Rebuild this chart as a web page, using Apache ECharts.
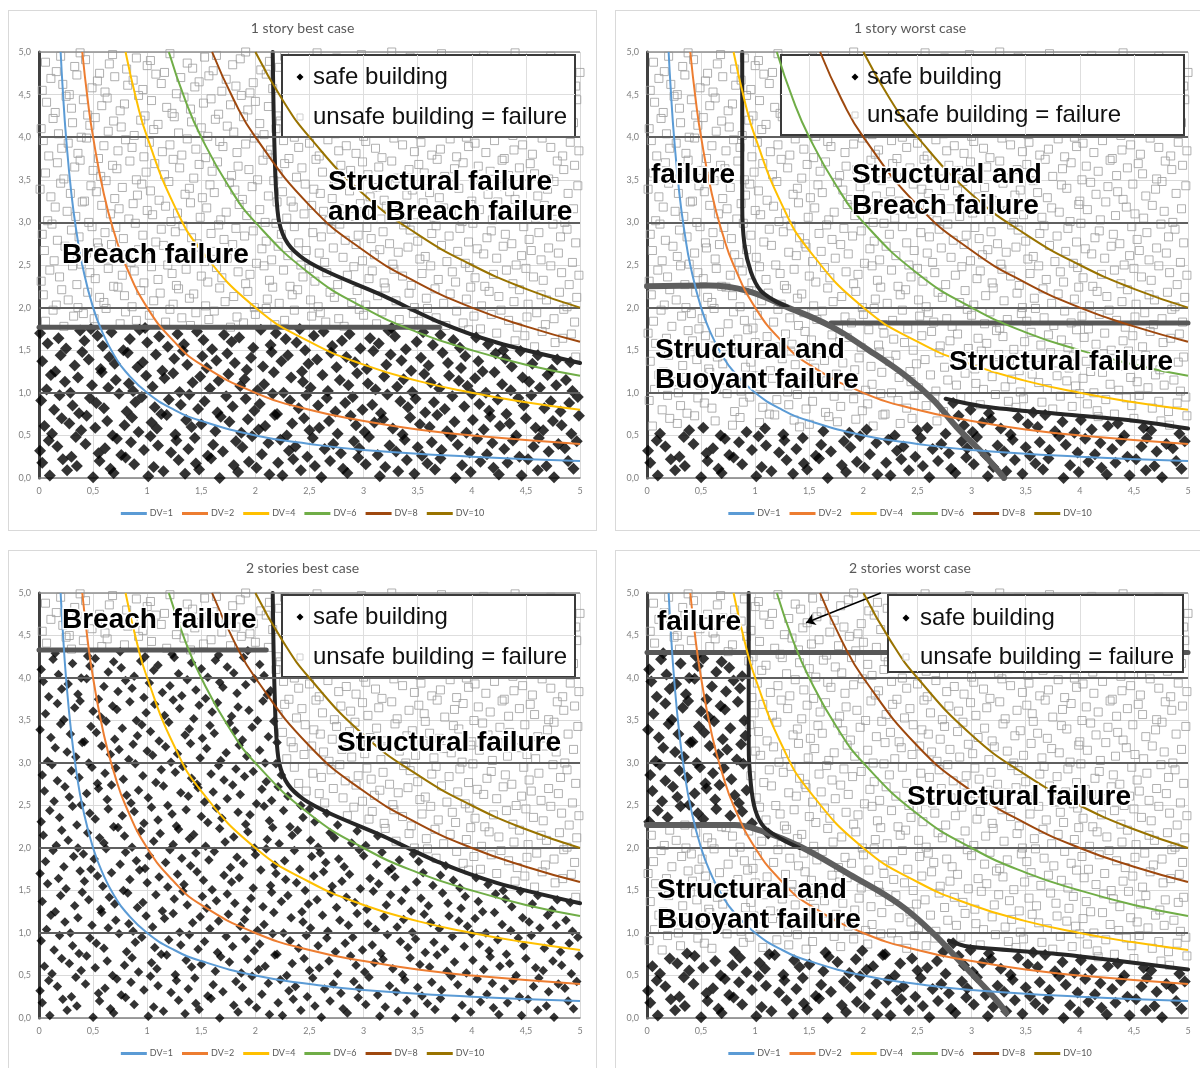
<!DOCTYPE html>
<html>
<head>
<meta charset="utf-8">
<title>Building failure by flood depth and velocity</title>
<script src="https://cdn.jsdelivr.net/npm/echarts@6/dist/echarts.min.js"></script>
<style>
  html, body { margin: 0; padding: 0; background: #fff; width: 1200px; height: 1068px; overflow: hidden; }
  .panel { position: absolute; box-sizing: border-box; border: 1px solid #d9d9d9; background: #fff; }
</style>
</head>
<body>
<div id="p1" class="panel" style="left:8px;top:10px;width:589px;height:521px"></div>
<div id="p2" class="panel" style="left:615px;top:10px;width:590px;height:521px"></div>
<div id="p3" class="panel" style="left:8px;top:550px;width:589px;height:530px"></div>
<div id="p4" class="panel" style="left:615px;top:550px;width:590px;height:530px"></div>
<script>
// Sampled (velocity, depth) cases, one token per case: xxx = velocity*100, yyy = depth*100.
const samples = [
  "003018 010003 022022 026009 035014 050001 056020 066011 069006 080024 088016 101002 106013 115008 129021 135005 145017 148010 159023 167000 180015 184007 194019 201012 213004 221018 225003 235022 242009 255014 261001 269020 281011 285006 295024 302016 315002 320013 332008 340021 347005 359017 366010 371023 385000 391015 399007 408019 420012 425004 433018 446003 452022 461009 469014 476001 489020 494011",
  "001032 009044 017037 030025 034048 043040 055029 061035 072046 076027 085042 097033 103049 110038 122030 127044 138034 144047 156026 161039 170031 182043 188036 197049 206028 212041 223045 231032 237037 248025 253047 264034 272040 279029 291043 296035 305048 313027 324038 330031 338045 350036 354026 363042 372033 381049 387039 398030 405046 414028 419041 430034 438044 444025 457037 462047 471031 480040 486035 497043",
  "005061 012052 021070 028064 039056 044073 052059 063067 068050 079062 086071 092054 104065 109058 118074 126051 136068 141060 150063 163055 168072 176066 187053 193069 203057 209061 218074 229050 234064 245070 250056 259059 268067 276052 288073 293062 301054 310065 318069 327058 336051 343071 352063 361060 368074 377055 384066 395053 401068 411057 417072 426061 435064 441050 450070 459059 466056 475067 483062 492052 499073",
  "002091 014080 019097 031085 037076 047094 053088 060082 074099 081078 089089 095095 107083 113075 120092 131086 139098 147081 153090 165077 173096 179084 191093 199079 204087 216099 220075 232091 240082 247097 258085 266094 274078 283088 290095 299080 308086 316076 322098 334090 341083 348093 357077 365089 375081 382096 393084 400099 407087 416079 424092 432075 443094 448085 455097 467082 473090 482078 490088 498095",
  "007104 011121 024113 029100 036118 049109 058124 064106 071115 083111 087102 099120 105107 116117 124123 130101 142112 149119 158105 166114 175122 186108 190116 202103 208110 217124 226100 233118 244113 251106 262121 267102 278115 286109 294123 304111 311104 319119 331107 337116 345101 356122 362112 370105 379120 388114 396108 403117 413100 421124 428110 436103 447118 453113 463106 470121 478109 487115 493102",
  "003137 015125 020144 033132 040148 046139 057128 065142 070134 082147 091130 096136 108145 114126 125140 133149 137133 151143 155129 164138 174146 181135 192127 196141 207131 215148 224137 230144 243125 249134 257139 270147 275130 284142 292136 303128 309149 321133 325145 335138 344126 353141 360132 373147 378135 390129 394143 406137 410125 422146 431140 437131 445149 456134 461144 474127 479139 491136 496142",
  "001170 008158 018164 025152 038173 042161 054167 059155 067171 078150 084163 093174 100159 111166 119154 128169 134157 146172 152162 160151 171168 178160 185165 198153 205174 214156 219170 228163 238159 246150 254167 263172 271155 280161 287169 297152 306164 314158 323173 329166 339151 349160 355171 364156 371168 383162 389153 397174 404165 415157 423170 429150 440161 449167 458154 465172 477159 484164 492169",
  "006184 013197 023178 032190 041193 048175 051187 062199 075181 080195 090185 098176 102191 117183 121198 132188 140179 145194 157186 162196 177177 183189 189182 200192 210199 218180 227185 236197 241175 252190 260194 265183 277187 282178 296198 300191 312181 317195 326176 333186 346193 351184 359199 367188 376179 386196 392182 402190 408175 418192 427197 434185 442177 451189 460194 468180 476187 485198 495183",
  "004215 016203 021221 027209 036200 045218 056212 060206 073224 079214 086201 094220 106208 112217 124204 129222 139211 143216 154202 167223 172207 180213 193219 199200 211210 216224 222205 234215 239221 251209 258201 269218 273212 289206 294220 302203 313214 320223 330208 342217 347200 358211 366222 374205 380216 395210 399224 409202 416219 425213 439207 444221 452204 464215 469209 481218 488201 497212",
  "002231 010244 019236 031249 035227 047241 052234 064246 069225 077238 088243 097229 104248 110233 123240 127226 136245 150237 156230 164247 169235 184242 191228 195239 208249 213232 226244 232225 244236 250246 255231 266241 276227 285238 291248 305234 308243 319229 328245 336237 344226 354240 362249 369233 382242 385230 398247 403235 412225 420239 432244 438228 450246 457236 466232 473249 483241 490227 499238",
  "005267 014255 024272 028260 039251 044264 055270 063257 067274 081262 085253 092268 101259 115273 119250 131265 138261 147271 153254 161266 174258 179274 186263 201252 206269 215256 221272 230261 242250 247267 259264 264253 272270 281259 293274 299255 310262 315268 327251 332265 341271 352257 357260 372273 377254 387266 394252 405269 411263 423258 429272 441250 446261 455267 464256 471270 480264 493253",
  "003286 012298 017279 030291 037283 049295 054276 061288 071294 078281 089299 096285 108277 113292 126289 133296 141282 146275 159287 166297 171280 182293 190284 198290 210278 219299 224286 236295 240276 253288 261283 270292 278298 283279 295285 303294 307281 318289 324275 337297 343291 350278 363287 367296 379284 389293 397277 401299 414282 418290 431286 437275 448295 453280 462288 475298 482283 488292 496276",
  "008302 015318 026313 034307 040324 046300 058320 066310 074316 083304 087322 100314 105309 117319 122301 128311 140323 149306 155317 168303 173312 185321 192308 204315 209300 220324 229305 235318 245310 252320 263313 268302 280316 289307 297322 301311 316304 321319 333314 339300 348309 355323 365306 374317 381312 391301 399321 407315 419303 424324 433308 443318 451310 459305 467320 478313 486300 494316",
  "001339 011330 020346 029334 042325 048343 053336 062349 070328 077341 091332 095345 103337 111326 120348 135333 139340 151329 158344 162335 176347 181338 188327 197342 212331 217349 225336 233325 246345 254339 260334 271328 275343 287337 292348 306330 312341 319326 329346 340332 345338 357349 361335 370329 383344 388340 400325 410347 415333 426342 435336 440327 449345 461331 470339 476348 489334 498343",
  "006358 017370 023351 033365 038373 050361 057354 068367 072363 084372 090350 099359 107369 116356 124374 130364 143352 148368 160360 165371 178355 184366 194362 202350 207373 221357 227369 238353 243364 256374 262359 273351 279367 288361 299371 304356 314365 326372 331352 342362 351368 356358 368374 375354 384363 392370 402350 406366 417360 428373 434355 444364 454369 458357 471351 479372 485362 495367",
  "004396 009378 021387 027393 036381 044399 055375 060390 073384 080397 086388 097377 102394 114383 121391 132379 137398 145386 154376 167395 170389 183382 191392 199399 211380 214385 226396 231375 240388 250393 259378 267397 277384 284390 293381 302395 311387 317376 328399 336391 347383 353394 363379 371386 380398 386377 397389 403393 413382 421396 430375 439385 447391 456380 465399 473388 484378 491394 499384",
  "002410 013422 018404 031417 039400 047414 052423 064407 069419 076412 088402 094420 106409 110415 125424 129405 141418 150411 156401 163421 174413 180406 189424 204416 208403 219410 223419 236400 244414 249422 258408 270417 274404 286412 290423 300401 309415 322420 325406 334411 344424 352403 359418 366409 378413 389421 395400 408416 412407 420422 432412 438402 450419 457405 468414 474424 481408 494417",
  "007441 015429 025448 030434 041444 045426 058437 063446 075431 079439 092449 098425 104443 118435 123428 134447 140433 152440 159445 166427 177438 187449 193432 200442 212436 220425 229446 234430 247441 253434 264448 268439 281426 288444 296431 306437 313449 320428 331442 340435 349445 355425 367440 374433 383447 391438 399429 409443 418436 425449 437427 445441 452432 463446 470434 480439 487426 497444",
  "003455 011469 022462 028450 035473 049458 054466 061453 070471 082461 087467 096456 108474 113463 127451 131470 144459 148465 157472 169454 173468 182460 195452 198464 210474 216457 230469 237462 242450 255466 261471 272455 277461 291473 294458 303467 316452 323464 329470 338456 350474 358460 362468 376451 381463 393472 398454 404466 415459 427469 430450 442462 455474 461457 472465 477453 490471 496460",
  "006488 016477 020495 033483 038499 043491 056475 065486 068497 081480 090493 100484 103490 116476 121498 137487 142481 153494 161478 164496 179485 186492 191500 205479 213489 222482 227495 239475 248487 257499 266484 275493 285477 290490 298497 307481 314486 326500 334476 343494 353483 360489 372498 377479 387491 390485 401475 411496 420488 426480 440499 448492 457477 467484 473495 485482 492490 500476"
];

// Depth x velocity iso-lines
const dvNames = ['DV=1', 'DV=2', 'DV=4', 'DV=6', 'DV=8', 'DV=10'];
const dvColors = ['#5B9BD5', '#ED7D31', '#FFC000', '#70AD47', '#9E480E', '#997300'];
const dv1 = [[0.2,5],[0.22,4.55],[0.25,4],[0.3,3.33],[0.35,2.86],[0.4,2.5],[0.5,2],[0.6,1.67],[0.7,1.43],[0.8,1.25],[1,1],[1.25,0.8],[1.5,0.67],[2,0.5],[2.5,0.4],[3,0.33],[4,0.25],[5,0.2]];
const dv2 = [[0.4,5],[0.45,4.44],[0.5,4],[0.6,3.33],[0.7,2.86],[0.8,2.5],[1,2],[1.25,1.6],[1.5,1.33],[2,1],[2.5,0.8],[3,0.67],[3.5,0.57],[4,0.5],[5,0.4]];
const dv4 = [[0.8,5],[0.9,4.44],[1,4],[1.25,3.2],[1.5,2.67],[2,2],[2.5,1.6],[3,1.33],[3.5,1.14],[4,1],[4.5,0.89],[5,0.8]];
const dv6 = [[1.2,5],[1.35,4.44],[1.5,4],[1.75,3.43],[2,3],[2.5,2.4],[3,2],[3.5,1.71],[4,1.5],[4.5,1.33],[5,1.2]];
const dv8 = [[1.6,5],[1.8,4.44],[2,4],[2.5,3.2],[3,2.67],[3.5,2.29],[4,2],[4.5,1.78],[5,1.6]];
const dv10 = [[2,5],[2.25,4.44],[2.5,4],[3,3.33],[3.5,2.86],[4,2.5],[4.5,2.22],[5,2]];
const dvLines = [dv1, dv2, dv4, dv6, dv8, dv10];

// Failure boundaries, best case (shared structural limit)
const structuralBest = [[2.16,5],[2.17,4.2],[2.19,3.4],[2.22,3.0],[2.3,2.75],[2.45,2.57],[2.7,2.4],[3.18,2.14],[3.7,1.83],[4.23,1.59],[5,1.35]];
const breachBest1 = [[0,1.77],[3.7,1.77]];
const breachBest2 = [[0,4.33],[2.1,4.33]];

// Failure boundaries, worst case, 1 story
const structuralWorst1 = [[0.88,5],[0.88,3.2],[0.9,2.75],[0.96,2.42],[1.05,2.2],[1.18,2.08],[1.3,2.01]];
const buoyantWorst1 = [[0,2.25],[0.57,2.26],[0.92,2.2],[1.27,2.02],[1.7,1.78],[2.05,1.5],[2.4,1.19],[2.65,0.91],[2.86,0.6],[3.11,0.28],[3.3,0]];
const lowerWorst1 = [[2.76,0.93],[3.11,0.84],[3.82,0.75],[4.52,0.67],[5,0.58]];
const breachWorst1 = [[1.7,1.82],[5,1.82]];
const safeDepthWorst1 = 0.6;

// Failure boundaries, worst case, 2 stories
const structuralWorst2 = [[0.94,5],[0.94,3.2],[0.96,2.75],[1.0,2.45],[1.08,2.25],[1.25,2.1],[1.41,2.0]];
const buoyantWorst2 = [[0,2.27],[0.81,2.27],[1.06,2.2],[1.41,2.02],[1.87,1.69],[2.33,1.34],[2.65,0.99],[2.86,0.71],[3.07,0.43],[3.25,0.18],[3.32,0.06]];
const lowerWorst2 = [[2.79,0.91],[2.97,0.84],[3.82,0.75],[5,0.57]];
const breachWorst2 = [[0,4.3],[5,4.3]];
const safeDepthWorst2 = 0.8;
const arrowWorst2 = [[2.16,5.0],[1.47,4.65]];

const keyLabels = ['safe building', 'unsafe building = failure'];
const axisMax = 5, gridStep = 0.5;

const points = samples.join(' ').split(' ').map(function (t) {
  return [parseInt(t.slice(0, 3), 10) / 100, parseInt(t.slice(3), 10) / 100];
});

// y of a polyline (ordered by x) at x; Infinity left of its start
function yAt(line, x) {
  if (x < line[0][0]) return Infinity;
  for (let i = 0; i < line.length - 1; i++) {
    const a = line[i], b = line[i + 1];
    if (x <= b[0]) {
      const t = b[0] === a[0] ? 0 : (x - a[0]) / (b[0] - a[0]);
      return a[1] + t * (b[1] - a[1]);
    }
  }
  return line[line.length - 1][1];
}
// x of a polyline (ordered by falling y) at y
function xAt(line, y) {
  if (y >= line[0][1]) return line[0][0];
  for (let i = 0; i < line.length - 1; i++) {
    const a = line[i], b = line[i + 1];
    if (y >= b[1]) {
      const t = a[1] === b[1] ? 0 : (a[1] - y) / (a[1] - b[1]);
      return a[0] + t * (b[0] - a[0]);
    }
  }
  return line[line.length - 1][0];
}

const dark = '#262626', mid = '#575757';

const panels = [
  {
    id: 'p1', title: '1 story best case', grid: { left: 30, top: 41, width: 541, height: 426 }, diamond: 12,
    isSafe: function (x, y) { return y < breachBest1[0][1] && y < yAt(structuralBest, x); },
    bounds: [
      { data: breachBest1, color: mid, width: 5, smooth: false },
      { data: structuralBest, color: dark, width: 4, smooth: 0.3 }
    ],
    notes: [['Structural failure', 319, 171], ['and Breach failure', 319, 201], ['Breach failure', 53, 244]],
    key: { x: 273, y: 44, w: 293, h: 82, bx: 291, tx: 304, sy: 66, uy: 106 }
  },
  {
    id: 'p2', title: '1 story worst case', grid: { left: 31, top: 41, width: 541, height: 426 }, diamond: 12,
    isSafe: function (x, y) { return y < (x < lowerWorst1[0][0] ? safeDepthWorst1 : yAt(lowerWorst1, x)); },
    bounds: [
      { data: breachWorst1, color: mid, width: 5, smooth: false },
      { data: buoyantWorst1, color: '#5e5e5e', width: 6, smooth: 0.4 },
      { data: structuralWorst1, color: dark, width: 4, smooth: 0.3 },
      { data: lowerWorst1, color: dark, width: 4, smooth: 0.3 }
    ],
    notes: [['failure', 35, 164], ['Structural and', 236, 164], ['Breach failure', 236, 195],
            ['Structural and', 39, 339], ['Buoyant failure', 39, 369], ['Structural failure', 333, 351]],
    key: { x: 165, y: 44, w: 403, h: 80, bx: 239, tx: 251, sy: 66, uy: 104 }
  },
  {
    id: 'p3', title: '2 stories best case', grid: { left: 30, top: 42, width: 541, height: 425 }, diamond: 9.5,
    isSafe: function (x, y) { return y < breachBest2[0][1] && y < yAt(structuralBest, x); },
    bounds: [
      { data: breachBest2, color: mid, width: 5, smooth: false },
      { data: structuralBest, color: dark, width: 4, smooth: 0.3 }
    ],
    notes: [['Breach  failure', 53, 69], ['Structural failure', 328, 192]],
    key: { x: 273, y: 44, w: 293, h: 82, bx: 291, tx: 304, sy: 66, uy: 106 }
  },
  {
    id: 'p4', title: '2 stories worst case', grid: { left: 31, top: 42, width: 541, height: 425 }, diamond: 12,
    isSafe: function (x, y) {
      const low = y < (x < lowerWorst2[0][0] ? safeDepthWorst2 : yAt(lowerWorst2, x));
      const high = y > yAt(buoyantWorst2, x) && y < breachWorst2[0][1] && x < xAt(structuralWorst2, y);
      return low || high;
    },
    bounds: [
      { data: breachWorst2, color: mid, width: 5, smooth: false },
      { data: buoyantWorst2, color: '#5e5e5e', width: 6, smooth: 0.4 },
      { data: structuralWorst2, color: dark, width: 4, smooth: 0.3 },
      { data: lowerWorst2, color: dark, width: 4, smooth: 0.3 }
    ],
    arrow: arrowWorst2,
    notes: [['failure', 41, 71], ['Structural failure', 291, 246], ['Structural and', 41, 339], ['Buoyant failure', 41, 369]],
    key: { x: 272, y: 44, w: 295, h: 77, bx: 290, tx: 304, sy: 67, uy: 106 }
  }
];

function fmtX(v) { return String(v).replace('.', ','); }
function fmtY(v) { return v.toFixed(1).replace('.', ','); }

// White key box: sits above the points and failure limits, below the DV curves
function keyGraphics(k) {
  const font = { fontSize: 24, fontFamily: '"Liberation Sans", Arial, sans-serif', fill: '#111', verticalAlign: 'middle' };
  return [
    { type: 'rect', z: 4.5, shape: { x: k.x, y: k.y, width: k.w, height: k.h }, style: { fill: '#fff', stroke: '#3a3a3a', lineWidth: 2 } },
    { type: 'polygon', z: 101, shape: { points: [[k.bx, k.sy - 3.5], [k.bx + 3.5, k.sy], [k.bx, k.sy + 3.5], [k.bx - 3.5, k.sy]] }, style: { fill: '#000' } },
    { type: 'rect', z: 101, shape: { x: k.bx - 3, y: k.uy - 3, width: 6, height: 6 }, style: { fill: 'none', stroke: '#cfcfcf', lineWidth: 1 } },
    { type: 'text', z: 101, x: k.tx, y: k.sy, style: Object.assign({ text: keyLabels[0] }, font) },
    { type: 'text', z: 101, x: k.tx, y: k.uy, style: Object.assign({ text: keyLabels[1] }, font) }
  ];
}

// Light grid lines that stay visible across the key box
function keyGridLines(p) {
  const g = p.grid, k = p.key;
  const x0 = (k.x - g.left) / g.width * axisMax, x1 = (k.x + k.w - g.left) / g.width * axisMax;
  const y1 = axisMax - (k.y - g.top) / g.height * axisMax, y0 = axisMax - (k.y + k.h - g.top) / g.height * axisMax;
  const segs = [];
  for (let v = gridStep; v < axisMax; v += gridStep) {
    if (v > x0 && v < x1) segs.push([{ coord: [v, Math.max(0, y0)] }, { coord: [v, Math.min(axisMax, y1)] }]);
    if (v > y0 && v < y1) segs.push([{ coord: [Math.max(0, x0), v] }, { coord: [Math.min(axisMax, x1), v] }]);
  }
  return segs;
}

function buildOption(p) {
  const safe = [], unsafe = [];
  points.forEach(function (pt) { (p.isSafe(pt[0], pt[1]) ? safe : unsafe).push(pt); });

  const series = [
    {
      type: 'line', name: 'major grid', data: [], z: 1, silent: true, symbol: 'none',
      markLine: {
        silent: true, symbol: 'none', label: { show: false }, animation: false,
        data: [1, 2, 3, 4].map(function (v) { return { yAxis: v, lineStyle: { color: '#5f5f5f', width: 2, type: 'solid' } }; })
          .concat([{ yAxis: 5, lineStyle: { color: '#8f8f8f', width: 1.5, type: 'solid' } }])
      }
    },
    {
      type: 'scatter', name: keyLabels[1], data: unsafe, z: 2, silent: true,
      symbol: 'rect', symbolSize: 8,
      itemStyle: { color: 'rgba(255,255,255,0)', borderColor: '#9c9c9c', borderWidth: 1 }
    },
    {
      type: 'scatter', name: keyLabels[0], data: safe, z: 2, silent: true,
      symbol: 'diamond', symbolSize: p.diamond, itemStyle: { color: '#000' }
    }
  ];

  p.bounds.forEach(function (b) {
    series.push({
      type: 'line', data: b.data, z: 4, silent: true, smooth: b.smooth, symbol: 'none',
      lineStyle: { color: b.color, width: b.width, cap: 'round' }
    });
  });

  series.push({
    type: 'line', name: 'key grid', data: [], z: 4.6, silent: true, symbol: 'none',
    markLine: {
      silent: true, symbol: 'none', label: { show: false }, animation: false,
      lineStyle: { color: '#dedede', width: 1, type: 'solid' },
      data: keyGridLines(p)
    }
  });

  dvLines.forEach(function (d, i) {
    series.push({
      type: 'line', name: dvNames[i], data: d, z: 5, silent: true,
      smooth: true, symbol: 'none',
      lineStyle: { color: dvColors[i], width: 2 }, itemStyle: { color: dvColors[i] }
    });
  });

  if (p.arrow) {
    series.push({
      type: 'line', data: [], z: 6, silent: true, symbol: 'none',
      markLine: {
        silent: true, label: { show: false }, animation: false, symbolSize: 9,
        lineStyle: { color: '#000', width: 1.5, type: 'solid' },
        data: [[{ coord: p.arrow[0], symbol: 'none' }, { coord: p.arrow[1], symbol: 'arrow' }]]
      }
    });
  }

  const graphics = p.notes.map(function (n) {
    return {
      type: 'text', z: 95, x: n[1], y: n[2],
      style: {
        text: n[0], fontSize: 28, fontWeight: 'bold', fontFamily: '"Liberation Sans", Arial, sans-serif',
        fill: '#000', stroke: '#fff', lineWidth: 3, verticalAlign: 'middle'
      }
    };
  }).concat(keyGraphics(p.key));

  return {
    animation: false,
    backgroundColor: '#fff',
    title: {
      text: p.title, left: 'center', top: 5,
      textStyle: { fontSize: 14, fontWeight: 'normal', color: '#595959', fontFamily: 'Lato, "Open Sans", sans-serif' }
    },
    legend: {
      data: dvNames, top: 493, left: 'center', icon: 'rect', itemWidth: 26, itemHeight: 3, itemGap: 9,
      textStyle: { fontSize: 9, color: '#595959', fontFamily: 'Lato, "Open Sans", sans-serif', padding: [0, 0, 0, -2] },
      selectedMode: false
    },
    grid: Object.assign({ containLabel: false }, p.grid),
    xAxis: {
      type: 'value', min: 0, max: axisMax, interval: gridStep,
      axisLine: { show: true, onZero: false, lineStyle: { color: '#808080', width: 1.5 } },
      axisTick: { show: false },
      splitLine: { show: true, lineStyle: { color: '#d9d9d9', width: 1 } },
      axisLabel: { fontSize: 9, color: '#7f7f7f', fontFamily: 'Lato, sans-serif', formatter: fmtX, margin: 9 }
    },
    yAxis: {
      type: 'value', min: 0, max: axisMax, interval: gridStep,
      axisLine: { show: true, onZero: false, lineStyle: { color: '#404040', width: 3 } },
      axisTick: { show: false },
      splitLine: { show: true, lineStyle: { color: '#d9d9d9', width: 1 } },
      axisLabel: { fontSize: 9, color: '#7f7f7f', fontFamily: 'Lato, sans-serif', formatter: fmtY, margin: 8 }
    },
    graphic: graphics,
    series: series
  };
}

panels.forEach(function (p) {
  const chart = echarts.init(document.getElementById(p.id), null, { renderer: 'canvas' });
  chart.setOption(buildOption(p));
});
</script>
</body>
</html>
